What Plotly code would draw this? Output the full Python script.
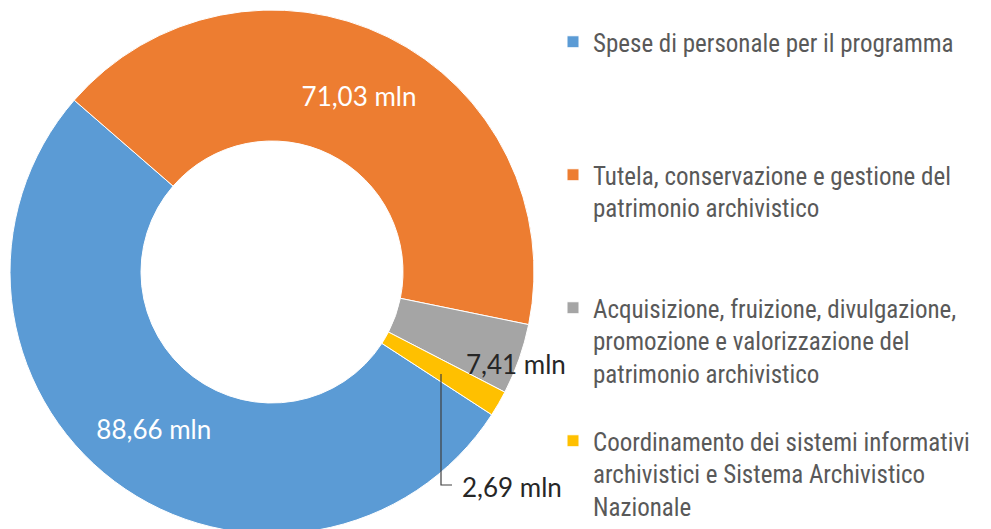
import plotly.graph_objects as go

categories = [
    "Spese di personale per il programma",
    "Tutela, conservazione e gestione del<br>patrimonio archivistico",
    "Acquisizione, fruizione, divulgazione,<br>promozione e valorizzazione del<br>patrimonio archivistico",
    "Coordinamento dei sistemi informativi<br>archivistici e Sistema Archivistico<br>Nazionale",
]
values = [88.66, 71.03, 7.41, 2.69]
colors = ["#5B9BD5", "#ED7D31", "#A5A5A5", "#FFC000"]

W, H = 991, 529


def fmt(v):
    return f"{v:.2f}".replace(".", ",") + " mln"


def px(x, y):
    # pixel position (page, incl. 8px body margin) -> paper coords
    return (x - 8) / W, 1 - (y - 8) / H


labels_text = [fmt(v) for v in values]

# pad legend entries to 4 lines so they are spaced like the original
legend_names = []
for i, c in enumerate(categories):
    n = c.count("<br>") + 1
    pad = 4 - n if i < len(categories) - 1 else 0
    legend_names.append(c + "<br>&nbsp;" * pad)

x0, y1 = px(10, 10)
x1, y0 = px(534, 534)

fig = go.Figure()
fig.add_pie(
    labels=legend_names,
    values=values,
    text=[labels_text[0], labels_text[1], "", ""],
    textinfo="text",
    textposition=["inside", "inside", "none", "none"],
    insidetextorientation="horizontal",
    insidetextfont=dict(family="Lato", size=26, color="white"),
    hole=0.5,
    sort=False,
    direction="clockwise",
    rotation=123,
    marker=dict(colors=colors, line=dict(color="white", width=1)),
    domain=dict(x=[x0, x1], y=[y0, y1]),
    hoverinfo="label+value",
)

# labels for the two small slices
for txt, (ax, ay) in [(labels_text[2], (516, 364)), (labels_text[3], (512, 487))]:
    xx, yy = px(ax, ay)
    fig.add_annotation(x=xx, y=yy, xref="paper", yref="paper", text=txt, showarrow=False,
                       xanchor="center", yanchor="middle",
                       font=dict(family="Lato", size=26, color="#262626"))

# leader line for 2,69 mln
p1, p2, p3 = px(441, 374), px(441, 485), px(452, 485)
fig.add_shape(type="path", xref="paper", yref="paper",
              path="M %f,%f L %f,%f L %f,%f" % (p1 + p2 + p3),
              line=dict(color="#404040", width=1.2))

lx, ly = px(553, 19)
fig.update_layout(
    width=W,
    height=H,
    margin=dict(l=0, r=0, t=0, b=0, autoexpand=False),
    paper_bgcolor="white",
    plot_bgcolor="white",
    showlegend=True,
    legend=dict(
        x=lx, xanchor="left",
        y=ly, yanchor="top",
        valign="top",
        font=dict(family="Roboto Condensed, Liberation Sans", size=25, color="#595959"),
        bgcolor="rgba(0,0,0,0)",
    ),
)

fig.write_html("out.html")
